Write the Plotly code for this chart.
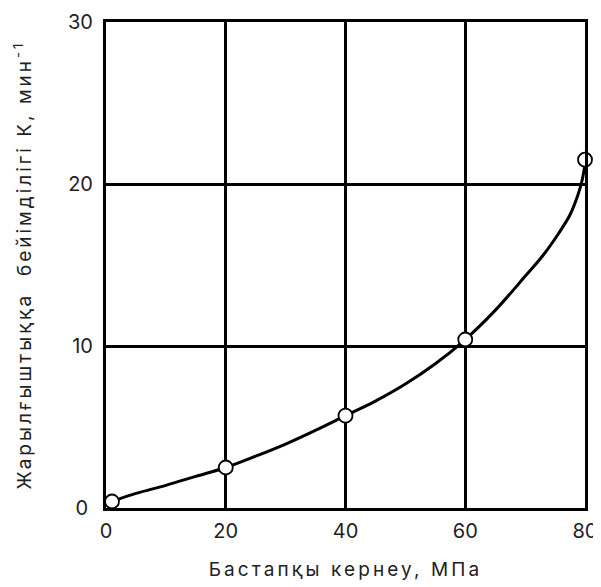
import plotly.graph_objects as go

# measured points (hollow circles)
pt_x = [1, 20, 40, 60, 80]
pt_y = [0.4, 2.5, 5.7, 10.4, 21.5]

# smooth curve
curve_x = [1, 5, 10, 15, 20, 25, 30, 35, 40, 45, 50, 55, 60, 65, 70, 73, 75.5, 77.5, 78.8, 79.5, 80]
curve_y = [0.4, 0.9, 1.4, 1.95, 2.5, 3.2, 3.95, 4.8, 5.7, 6.6, 7.65, 8.9, 10.4, 12.2, 14.3, 15.6, 16.9, 18.1, 19.3, 20.2, 21.2]

x_ticks = [0, 20, 40, 60, 80]
y_ticks = [0, 10, 20, 30]
y_ticklabels = ["0\u2005", "10", "20", "30"]

x_title = "Бастапқы кернеу, МПа"
y_title = "Жарылғыштыққа  бейімділігі К, мин<sup>-1</sup>"

font = dict(family="Inter, Roboto, sans-serif", size=20, color="#222")
title_font = dict(family="Inter, Roboto, sans-serif", size=19, color="#222")

fig = go.Figure()
fig.add_trace(go.Scatter(x=curve_x, y=curve_y, mode="lines",
                         line=dict(color="black", width=3, shape="spline", smoothing=1.0),
                         hoverinfo="skip", showlegend=False, cliponaxis=False))
fig.add_trace(go.Scatter(x=pt_x, y=pt_y, mode="markers",
                         marker=dict(size=14, color="white", line=dict(color="black", width=1.8)),
                         showlegend=False, cliponaxis=False))

axis_common = dict(showgrid=True, gridcolor="black", gridwidth=3,
                   showline=True, linecolor="black", linewidth=3, mirror=True,
                   zeroline=False, ticks="", tickfont=font, automargin=False)

# the page adds an 8px body margin, so the figure is sized to fit inside it
fig.update_layout(
    width=593, height=579,
    margin=dict(l=98, r=16, t=14, b=79),
    paper_bgcolor="white", plot_bgcolor="white",
    font=font,
    xaxis=dict(range=[0, 80], tickvals=x_ticks, ticklabelstandoff=3,
               title=dict(text='<span style="letter-spacing:3.1px">' + x_title + '</span>',
                          font=title_font, standoff=21),
               **axis_common),
    yaxis=dict(range=[0, 30], tickvals=y_ticks, ticktext=y_ticklabels, ticklabelstandoff=6,
               title=dict(text='<span style="letter-spacing:3px">' + y_title + '</span>',
                          font=title_font, standoff=32),
               **axis_common),
)

fig.write_html("out.html")
